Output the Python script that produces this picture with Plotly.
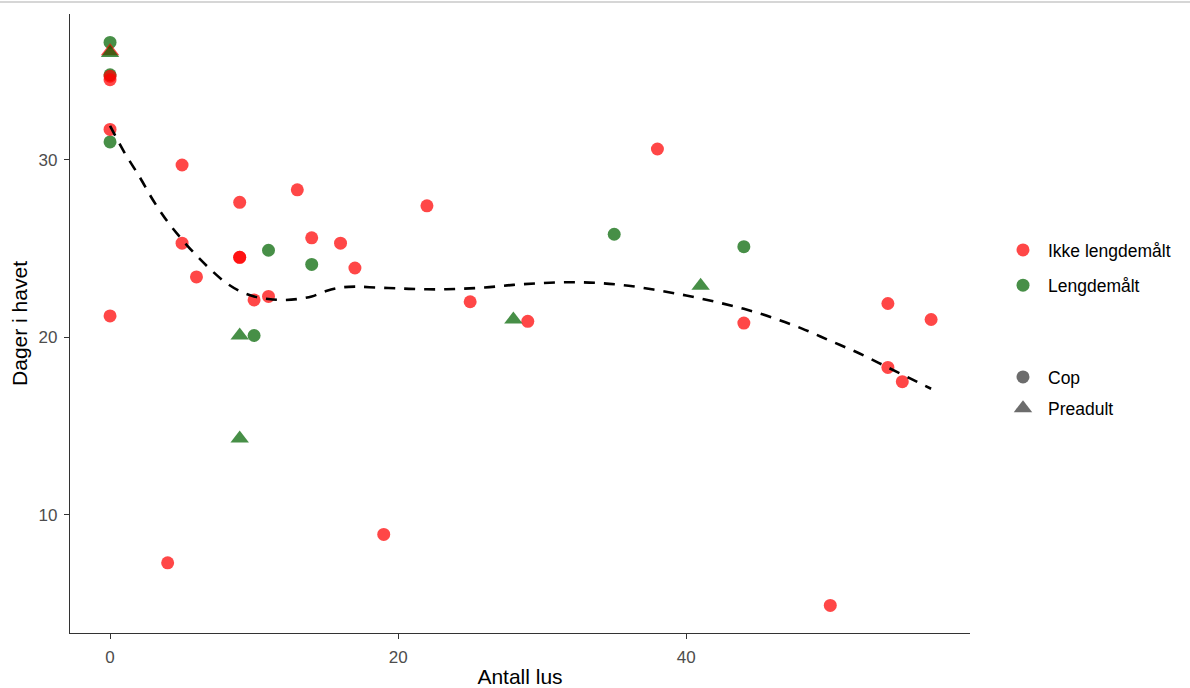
import plotly.graph_objects as go

# ---- data ----
red_cop_x = [0, 0, 0, 0, 4, 5, 5, 6, 9, 9, 9, 10, 11, 13, 14, 16, 17, 19, 22, 25, 29, 38, 44, 50, 54, 54, 55, 57]
red_cop_y = [34.7, 34.5, 31.7, 21.2, 7.3, 29.7, 25.3, 23.4, 27.6, 24.5, 24.5, 22.1, 22.3, 28.3, 25.6, 25.3, 23.9, 8.9,
             27.4, 22.0, 20.9, 30.6, 20.8, 4.9, 21.9, 18.3, 17.5, 21.0]
red_pre_x = [0]
red_pre_y = [36.1]
green_cop_x = [0, 0, 0, 10, 11, 14, 35, 44]
green_cop_y = [36.6, 34.78, 31.0, 20.1, 24.9, 24.1, 25.8, 25.1]
green_pre_x = [0, 9, 9, 28, 41]
green_pre_y = [36.0, 20.1, 14.3, 21.0, 22.9]

smooth_x = [0, 1, 2, 3, 4, 5, 6, 7, 8, 9, 10, 11, 12, 13, 14, 15, 16, 17, 18, 20, 22, 24, 26, 28, 30, 32, 34, 36,
            38, 40, 42, 44, 46, 48, 50, 52, 54, 56, 57]
smooth_y = [31.9, 30.4, 29.1, 27.7, 26.5, 25.5, 24.6, 23.8, 23.1, 22.6, 22.3, 22.15, 22.1, 22.15, 22.3, 22.6, 22.8,
            22.85, 22.82, 22.75, 22.7, 22.72, 22.8, 22.95, 23.05, 23.1, 23.05, 22.9, 22.65, 22.35, 22.0, 21.6, 21.1,
            20.5, 19.8, 19.1, 18.3, 17.5, 17.1]

colour_labels = ["Ikke lengdemålt", "Lengdemålt"]
shape_labels = ["Cop", "Preadult"]
x_ticks = [0, 20, 40]
y_ticks = [10, 20, 30]

RED = "#FF0000"
GREEN = "#006400"
GREY = "#333333"
OP = 0.72
FONT = "Liberation Sans, Arial, sans-serif"

fig = go.Figure()

def pts(x, y, color, symbol, size):
    fig.add_trace(go.Scatter(x=x, y=y, mode="markers", showlegend=False, hoverinfo="skip",
                             marker=dict(color=color, symbol=symbol, size=size, opacity=OP, line=dict(width=0))))

pts(green_cop_x, green_cop_y, GREEN, "circle", 13)
pts(red_cop_x, red_cop_y, RED, "circle", 13)
pts(red_pre_x, red_pre_y, RED, "triangle-up", 16)
pts(green_pre_x, green_pre_y, GREEN, "triangle-up", 16)

fig.add_trace(go.Scatter(x=smooth_x, y=smooth_y, mode="lines", showlegend=False, hoverinfo="skip",
                         line=dict(color="black", width=2.6, dash="11px,9px", shape="spline")))

# legend entries
for lab, col in zip(colour_labels, [RED, GREEN]):
    fig.add_trace(go.Scatter(x=[None], y=[None], mode="markers", name=lab, legend="legend",
                             legendgroup=lab,
                             marker=dict(color=col, symbol="circle", size=13, opacity=OP)))
for lab, sym, sz in zip(shape_labels, ["circle", "triangle-up"], [13, 16]):
    fig.add_trace(go.Scatter(x=[None], y=[None], mode="markers", name=lab, legend="legend2",
                             legendgroup=lab,
                             marker=dict(color=GREY, symbol=sym, size=sz, opacity=OP)))

W, H = 1190, 688
L, R, T, B = 70, 220, 14, 55
pw, ph = W - L - R, H - T - B

def px2paper_x(px):
    return (px - L) / pw

def px2paper_y(py):
    return (H - B - py) / ph

axis_common = dict(showgrid=False, zeroline=False, showline=True, linecolor=GREY, linewidth=1.4,
                   ticks="outside", ticklen=5, tickwidth=1.2, tickcolor=GREY, ticklabelstandoff=3,
                   automargin=False,
                   tickfont=dict(family=FONT, size=17, color="#4d4d4d"))

fig.update_layout(
    width=W, height=H,
    margin=dict(l=L, r=R, t=T, b=B),
    paper_bgcolor="white", plot_bgcolor="white",
    font=dict(family=FONT, color="black"),
    xaxis=dict(range=[-2.78, 59.7], tickvals=x_ticks, ticktext=[str(v) for v in x_ticks],
               title=dict(text="Antall lus", font=dict(family=FONT, size=21, color="black"), standoff=9),
               **axis_common),
    yaxis=dict(range=[3.35, 38.2], tickvals=y_ticks, ticktext=[str(v) for v in y_ticks],
               title=dict(text="Dager i havet", font=dict(family=FONT, size=21, color="black"), standoff=5),
               **axis_common),
    legend=dict(x=px2paper_x(998), y=px2paper_y(232), xanchor="left", yanchor="top", itemwidth=40,
                traceorder="grouped", tracegroupgap=9.5, font=dict(family=FONT, size=17.5, color="black"),
                bgcolor="rgba(0,0,0,0)", itemsizing="trace"),
    legend2=dict(x=px2paper_x(998), y=px2paper_y(359), xanchor="left", yanchor="top", itemwidth=40,
                 traceorder="grouped", tracegroupgap=5.5, font=dict(family=FONT, size=17.5, color="black"),
                 bgcolor="rgba(0,0,0,0)", itemsizing="trace"),
    shapes=[dict(type="line", xref="paper", yref="paper", x0=px2paper_x(0), x1=px2paper_x(W),
                 y0=px2paper_y(2), y1=px2paper_y(2), line=dict(color="#c8c8c8", width=1.5))],
)

fig.write_html("out.html")
